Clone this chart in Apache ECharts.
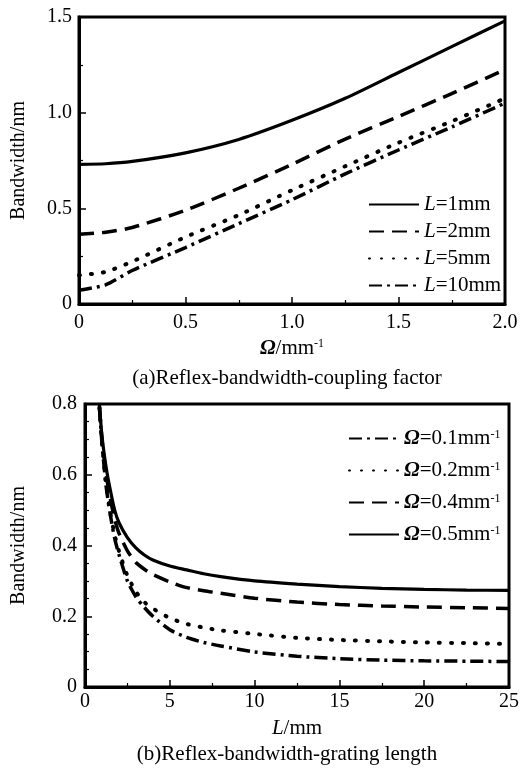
<!DOCTYPE html>
<html>
<head>
<meta charset="utf-8">
<script src="https://cdn.jsdelivr.net/npm/echarts@6/dist/echarts.min.js"></script>
<style>
html,body{margin:0;padding:0;background:#fff;}
#chart{width:525px;height:768px;}
</style>
</head>
<body>
<div id="chart"></div>
<script>
// ---------- Data: chart (a) bandwidth vs coupling factor ----------
var omegaA = [0, 0.125, 0.25, 0.5, 0.75, 1.0, 1.25, 1.5, 1.75, 2.0];
var bwL1  = [0.73, 0.733, 0.745, 0.79, 0.86, 0.96, 1.075, 1.21, 1.345, 1.48];
var bwL2  = [0.365, 0.375, 0.40, 0.49, 0.605, 0.73, 0.862, 0.98, 1.10, 1.225];
var bwL5  = [0.15, 0.168, 0.222, 0.35, 0.465, 0.595, 0.72, 0.843, 0.955, 1.075];
var bwL10 = [0.072, 0.10, 0.175, 0.295, 0.42, 0.545, 0.68, 0.805, 0.925, 1.05];
var namesA = ['L=1mm', 'L=2mm', 'L=5mm', 'L=10mm'];

// ---------- Data: chart (b) bandwidth vs grating length ----------
var lenB = [0.85, 1, 1.25, 1.5, 1.75, 2, 2.5, 3, 3.5, 4, 5, 6, 7, 8, 10, 12.5, 15, 17.5, 20, 22.5, 25];
var bwO01 = [0.79, 0.69, 0.565, 0.485, 0.42, 0.375, 0.30, 0.255, 0.225, 0.20, 0.162, 0.14, 0.126, 0.116, 0.099, 0.087, 0.08, 0.076, 0.074, 0.073, 0.072];
var bwO02 = [0.79, 0.69, 0.57, 0.49, 0.43, 0.385, 0.315, 0.27, 0.24, 0.222, 0.195, 0.178, 0.168, 0.16, 0.15, 0.139, 0.133, 0.129, 0.126, 0.124, 0.122];
var bwO04 = [0.79, 0.70, 0.60, 0.53, 0.475, 0.435, 0.385, 0.352, 0.333, 0.318, 0.297, 0.281, 0.272, 0.265, 0.251, 0.24, 0.233, 0.229, 0.226, 0.224, 0.222];
var bwO05 = [0.80, 0.71, 0.62, 0.555, 0.50, 0.465, 0.422, 0.393, 0.373, 0.359, 0.342, 0.331, 0.32, 0.312, 0.30, 0.291, 0.284, 0.279, 0.276, 0.274, 0.273];
var namesB = ['Ω=0.1', 'Ω=0.2', 'Ω=0.4', 'Ω=0.5'];

// ---------- Tick labels ----------
var xTicksA = ['0', '0.5', '1.0', '1.5', '2.0'];
var yTicksA = ['0', '0.5', '1.0', '1.5'];
var xTicksB = ['0', '5', '10', '15', '20', '25'];
var yTicksB = ['0', '0.2', '0.4', '0.6', '0.8'];

var FONT = '"Liberation Serif", "Times New Roman", serif';

function pairs(xs, ys) {
  return xs.map(function (x, i) { return [x, ys[i]]; });
}
function lookup(list, step) {
  return function (v) { var i = Math.round(v / step); return list[i] !== undefined ? list[i] : ''; };
}

var richStyles = {
  i: { fontFamily: FONT, fontSize: 21, fontStyle: 'italic', color: '#000' },
  ib: { fontFamily: FONT, fontSize: 21, fontStyle: 'italic', fontWeight: 'bold', color: '#000' },
  n: { fontFamily: FONT, fontSize: 21, color: '#000' },
  sup: { fontFamily: FONT, fontSize: 12, color: '#000', verticalAlign: 'top', lineHeight: 12 }
};

var axisCommon = {
  axisLine: { show: true, onZero: false, lineStyle: { color: '#000', width: 3 } },
  axisTick: { show: true, inside: true, length: 7, lineStyle: { color: '#000', width: 1.5 } },
  minorTick: { show: true, length: 4, lineStyle: { color: '#000', width: 1.2 } },
  splitLine: { show: false },
  axisLabel: { fontFamily: FONT, fontSize: 20, color: '#000' }
};
function ax(extra) {
  var o = JSON.parse(JSON.stringify(axisCommon));
  for (var k in extra) {
    if (typeof extra[k] === 'object' && o[k] && !Array.isArray(extra[k])) {
      for (var kk in extra[k]) o[k][kk] = extra[k][kk];
    } else o[k] = extra[k];
  }
  return o;
}

var solid = { type: 'solid', width: 3.2, color: '#000' };
var dashed = { type: [15, 8], width: 3.5, color: '#000' };
var dotted = { type: [1, 11], width: 4, color: '#000', cap: 'round' };
var dashdot = { type: [13, 5, 3, 5], width: 3.5, color: '#000' };

function line(name, xi, yi, data, style) {
  return {
    name: name, type: 'line', xAxisIndex: xi, yAxisIndex: yi,
    data: data, symbol: 'none', showSymbol: false,
    smooth: 0.25, clip: true,
    lineStyle: style, itemStyle: { color: '#000' }, emphasis: { disabled: true },
    animation: false
  };
}

var legendItemStyle = { color: 'rgba(0,0,0,0)', borderColor: 'rgba(0,0,0,0)', borderWidth: 0, opacity: 0 };

var option = {
  backgroundColor: '#fff',
  animation: false,
  grid: [
    { left: 79, top: 17, width: 426, height: 287, show: true, borderColor: '#000', borderWidth: 3, containLabel: false },
    { left: 85, top: 404, width: 424, height: 283, show: true, borderColor: '#000', borderWidth: 3, containLabel: false }
  ],
  xAxis: [
    ax({ type: 'value', gridIndex: 0, min: 0, max: 2, interval: 0.5,
      minorTick: { splitNumber: 2 },
      axisLabel: { margin: 9, formatter: lookup(xTicksA, 0.5) },
      name: '{ib|Ω}{n|/mm}{sup|-1}', nameLocation: 'middle', nameGap: 34,
      nameTextStyle: { rich: richStyles } }),
    ax({ type: 'value', gridIndex: 1, min: 0, max: 25, interval: 5,
      minorTick: { splitNumber: 2 },
      axisLabel: { margin: 5, formatter: lookup(xTicksB, 5) },
      name: '{i|L}{n|/mm}', nameLocation: 'middle', nameGap: 31,
      nameTextStyle: { rich: richStyles } })
  ],
  yAxis: [
    ax({ type: 'value', gridIndex: 0, min: 0, max: 1.5, interval: 0.5,
      minorTick: { splitNumber: 2 },
      axisLabel: { margin: 7, formatter: lookup(yTicksA, 0.5) },
      name: 'Bandwidth/nm', nameLocation: 'middle', nameGap: 50,
      nameTextStyle: { fontFamily: FONT, fontSize: 20, color: '#000' } }),
    ax({ type: 'value', gridIndex: 1, min: 0, max: 0.8, interval: 0.2,
      minorTick: { splitNumber: 4 },
      axisLabel: { margin: 8, formatter: lookup(yTicksB, 0.2) },
      name: 'Bandwidth/nm', nameLocation: 'middle', nameGap: 56,
      nameTextStyle: { fontFamily: FONT, fontSize: 20, color: '#000' } })
  ],
  legend: [
    { data: namesA, orient: 'vertical', left: 363, top: 189, itemWidth: 50, itemHeight: 14, itemGap: 6,
      itemStyle: legendItemStyle,
      formatter: function (n) { return '{i|L}{n|' + n.slice(1) + '}'; },
      textStyle: { fontFamily: FONT, fontSize: 21, color: '#000', lineHeight: 20, rich: richStyles },
      selectedMode: false },
    { data: namesB, orient: 'vertical', left: 343, top: 423, itemWidth: 50, itemHeight: 14, itemGap: 11,
      itemStyle: legendItemStyle,
      formatter: function (n) { return '{ib|Ω}{n|' + n.slice(1) + 'mm}{sup|-1}'; },
      textStyle: { fontFamily: FONT, fontSize: 21, color: '#000', lineHeight: 20, rich: richStyles },
      selectedMode: false }
  ],
  graphic: [
    { type: 'text', x: 287, y: 378, style: { text: '(a)Reflex-bandwidth-coupling factor', font: '21px ' + FONT, fill: '#000', textAlign: 'center', textVerticalAlign: 'middle' } },
    { type: 'text', x: 287, y: 754, style: { text: '(b)Reflex-bandwidth-grating length', font: '21px ' + FONT, fill: '#000', textAlign: 'center', textVerticalAlign: 'middle' } }
  ],
  series: [
    line(namesA[0], 0, 0, pairs(omegaA, bwL1), solid),
    line(namesA[1], 0, 0, pairs(omegaA, bwL2), dashed),
    line(namesA[2], 0, 0, pairs(omegaA, bwL5), dotted),
    line(namesA[3], 0, 0, pairs(omegaA, bwL10), dashdot),
    line(namesB[0], 1, 1, pairs(lenB, bwO01), dashdot),
    line(namesB[1], 1, 1, pairs(lenB, bwO02), dotted),
    line(namesB[2], 1, 1, pairs(lenB, bwO04), dashed),
    line(namesB[3], 1, 1, pairs(lenB, bwO05), solid)
  ]
};

var chart = echarts.init(document.getElementById('chart'), null, { renderer: 'canvas' });
chart.setOption(option);
</script>
</body>
</html>
